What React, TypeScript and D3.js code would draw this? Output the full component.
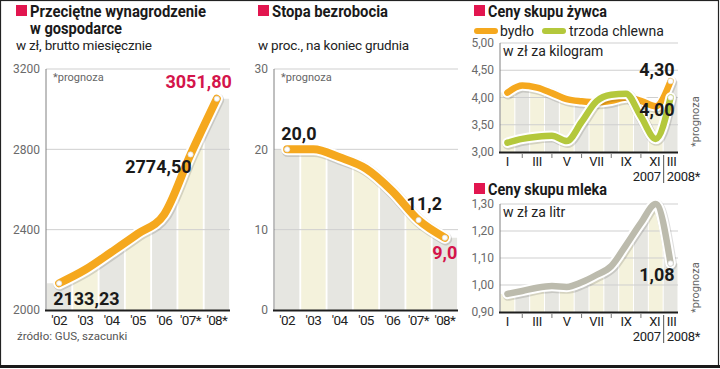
import React from "react";
import * as d3 from "d3";

// ---------- DATA ----------
const wageYears = ["'02", "'03", "'04", "'05", "'06", "'07*", "'08*"];
const wageValues = [2133.23, 2201.47, 2289.57, 2380.29, 2477.23, 2774.5, 3051.8];
const wageTicks = [2000, 2400, 2800, 3200];

const unempYears = ["'02", "'03", "'04", "'05", "'06", "'07*", "'08*"];
const unempValues = [20.0, 20.0, 19.0, 17.6, 14.8, 11.2, 9.0];
const unempTicks = [0, 10, 20, 30];

const monthSlots = ["I", "II", "III", "IV", "V", "VI", "VII", "VIII", "IX", "X", "XI", "III"];
const monthLabelIdx = [0, 2, 4, 6, 8, 10, 11];
const cattleValues = [4.09, 4.22, 4.18, 4.08, 3.97, 3.93, 3.91, 3.94, 4.0, 3.94, 3.84, 4.3];
const pigValues = [3.17, 3.24, 3.28, 3.3, 3.2, 3.55, 3.93, 4.05, 4.07, 3.65, 3.24, 4.0];
const livestockTicks = [3.0, 3.5, 4.0, 4.5, 5.0];
const milkValues = [0.967, 0.978, 0.99, 0.996, 0.993, 1.01, 1.037, 1.07, 1.148, 1.23, 1.3, 1.08];
const milkTicks = [0.9, 1.0, 1.1, 1.2, 1.3];

// ---------- STYLE ----------
const ORANGE = "#f5a81e";
const GREEN = "#b4c83c";
const MILK = "#bcbbad";
const CRIMSON = "#d4154b";
const RED = "#e2164f";
const GREY_BAND = "#e6e6e1";
const CREAM_BAND = "#f4f2dc";
const FONT = "Roboto, 'Noto Sans', sans-serif";

const comma = (f: string) => (v: number) => d3.format(f)(v).replace(".", ",");

function HaloLine({ d, color, width }: { d: string; color: string; width: number }) {
  return (
    <g fill="none" strokeLinecap="round" strokeLinejoin="round">
      <path d={d} stroke="rgba(0,0,0,0.13)" strokeWidth={width + 5} transform="translate(0.8,1.2)" />
      <path d={d} stroke="#fff" strokeWidth={width + 4} />
      <path d={d} stroke={color} strokeWidth={width} />
    </g>
  );
}

function Dot({ x, y }: { x: number; y: number }) {
  return <circle cx={x} cy={y} r={2.6} fill="#fff" stroke="#ddd" strokeWidth={0.8} />;
}

function Title({ x, y, lines, widths }: { x: number; y: number; lines: string[]; widths: number[] }) {
  return (
    <g>
      <rect x={x} y={y - 12} width={11} height={11} fill={RED} />
      {lines.map((l, i) => (
        <text
          key={i}
          x={x + 14}
          y={y + i * 16.5}
          fontFamily={FONT}
          fontWeight={700}
          fontSize={17}
          fill="#1a1a1a"
          textLength={widths[i]}
          lengthAdjust="spacingAndGlyphs"
        >
          {l}
        </text>
      ))}
    </g>
  );
}

type Series = { values: number[]; color: string };

function Panel(props: {
  id: string;
  x0: number;
  x1: number;
  yTopPx: number;
  yBotPx: number;
  domain: [number, number];
  ticks: number[];
  tickFmt: (v: number) => string;
  cats: string[];
  series: Series[];
  lineWidth: number;
  bandStartCream: boolean;
}) {
  const { id, x0, x1, yTopPx, yBotPx, domain, ticks, tickFmt, cats, series, lineWidth, bandStartCream } = props;
  const xb = d3.scaleBand<number>().domain(cats.map((_, i) => i)).range([x0, x1]).paddingInner(0.07).paddingOuter(0.035);
  const y = d3.scaleLinear().domain(domain).range([yBotPx, yTopPx]);
  const cx = (i: number) => (xb(i) as number) + xb.bandwidth() / 2;
  const line = d3
    .line<number>()
    .x((_, i) => cx(i))
    .y((v) => y(v))
    .curve(d3.curveMonotoneX);
  const maxVals = cats.map((_, i) => d3.max(series, (s) => s.values[i]) as number);
  const areaPts: [number, number][] = [
    [x0, maxVals[0]],
    ...maxVals.map((v, i) => [cx(i), v] as [number, number]),
    [x1, maxVals[maxVals.length - 1]],
  ];
  const area = d3
    .area<[number, number]>()
    .x((p) => p[0])
    .y0(yBotPx)
    .y1((p) => y(p[1]))
    .curve(d3.curveMonotoneX);
  const labelX = x0 - 6;
  return (
    <g>
      <defs>
        <clipPath id={id}>
          <path d={area(areaPts) as string} />
        </clipPath>
      </defs>
      <g clipPath={`url(#${id})`}>
        {cats.map((_, i) => (
          <rect
            key={i}
            x={xb(i)}
            y={yTopPx}
            width={xb.bandwidth()}
            height={yBotPx - yTopPx}
            fill={(i % 2 === 0) === bandStartCream ? CREAM_BAND : GREY_BAND}
          />
        ))}
      </g>
      {ticks.map((t) => (
        <g key={t}>
          {t !== domain[0] && (
            <line x1={x0} x2={x1} y1={y(t)} y2={y(t)} stroke="#cfcfcf" strokeWidth={1} />
          )}
          <text x={labelX} y={y(t)} dy="0.35em" textAnchor="end" fontFamily={FONT} fontSize={12} fill="#6a6a6a">
            {tickFmt(t)}
          </text>
        </g>
      ))}
      <line x1={x0} x2={x0} y1={yTopPx} y2={yBotPx} stroke="#808080" strokeWidth={1} />
      {series.map((s, k) => (
        <HaloLine key={k} d={line(s.values) as string} color={s.color} width={lineWidth} />
      ))}
      <line x1={x0 - 1} x2={x1} y1={yBotPx + 0.5} y2={yBotPx + 0.5} stroke="#1e1e1e" strokeWidth={2} />
    </g>
  );
}

export default function App() {
  const p1 = { x0: 46, x1: 230, yTop: 69, yBot: 310 };
  const p2 = { x0: 274, x1: 458, yTop: 69, yBot: 310 };
  const p3 = { x0: 500, x1: 678, yTop: 43, yBot: 152 };
  const p4 = { x0: 500, x1: 678, yTop: 204, yBot: 312 };

  const mkX = (cats: string[], x0: number, x1: number) =>
    d3.scaleBand<number>().domain(cats.map((_, i) => i)).range([x0, x1]).paddingInner(0.07).paddingOuter(0.035);

  const x1s = mkX(wageYears, p1.x0, p1.x1);
  const y1s = d3.scaleLinear().domain([2000, 3200]).range([p1.yBot, p1.yTop]);
  const c1 = (i: number) => (x1s(i) as number) + x1s.bandwidth() / 2;

  const x2s = mkX(unempYears, p2.x0, p2.x1);
  const y2s = d3.scaleLinear().domain([0, 30]).range([p2.yBot, p2.yTop]);
  const c2 = (i: number) => (x2s(i) as number) + x2s.bandwidth() / 2;

  const x3s = mkX(monthSlots, p3.x0, p3.x1);
  const y3s = d3.scaleLinear().domain([3, 5]).range([p3.yBot, p3.yTop]);
  const c3 = (i: number) => (x3s(i) as number) + x3s.bandwidth() / 2;
  const y4s = d3.scaleLinear().domain([0.9, 1.3]).range([p4.yBot, p4.yTop]);

  const sep = (c3(10) + c3(11)) / 2 + 0.5;
  const last = monthSlots.length - 1;
  const nW = wageValues.length - 1;
  const nU = unempValues.length - 1;

  const fmt2 = comma(".2f");
  const fmt1 = comma(".1f");

  const monthAxis = (yBot: number, yearY: number) => (
    <g fontFamily={FONT} fill="#222">
      {monthLabelIdx.map((i) => (
        <text key={i} x={c3(i) + (i === 10 ? -1 : i === 11 ? 1 : 0)} y={yBot + 14} textAnchor="middle" fontSize={13} letterSpacing={-0.3}>
          {monthSlots[i]}
        </text>
      ))}
      {monthSlots.map((_, i) =>
        monthLabelIdx.includes(i) ? null : (
          <line key={i} x1={c3(i)} x2={c3(i)} y1={yBot + 2} y2={yBot + 6} stroke="#777" strokeWidth={1} />
        )
      )}
      <line x1={sep} x2={sep} y1={yBot + 3} y2={yearY + 2} stroke="#555" strokeWidth={1} />
      <text x={sep - 3} y={yearY} textAnchor="end" fontSize={13} letterSpacing={-0.3}>
        2007
      </text>
      <text x={sep + 3} y={yearY} textAnchor="start" fontSize={13} letterSpacing={-0.3}>
        2008*
      </text>
    </g>
  );

  return (
    <svg width={720} height={369} style={{ position: "absolute", left: 0, top: 0, background: "#fff" }}>
      <rect x={0} y={0} width={720} height={369} fill="#fff" />

      {/* ---------- Panel 1 ---------- */}
      <Title x={16} y={17} lines={["Przeciętne wynagrodzenie", "w gospodarce"]} widths={[176, 92]} />
      <text x={16} y={50} fontFamily={FONT} fontSize={13.5} fill="#222" letterSpacing={-0.2}>
        w zł, brutto miesięcznie
      </text>
      <Panel
        id="clip1"
        x0={p1.x0}
        x1={p1.x1}
        yTopPx={p1.yTop}
        yBotPx={p1.yBot}
        domain={[2000, 3200]}
        ticks={wageTicks}
        tickFmt={d3.format("d")}
        cats={wageYears}
        series={[{ values: wageValues, color: ORANGE }]}
        lineWidth={8}
        bandStartCream={false}
      />
      <text x={p1.x0 + 7} y={p1.yTop + 12} fontFamily={FONT} fontSize={11} fill="#666">
        *prognoza
      </text>
      {wageYears.map((c, i) => (
        <text key={c} x={c1(i)} y={325} textAnchor="middle" fontFamily={FONT} fontSize={13.5} fill="#222" letterSpacing={-0.6}>
          {c}
        </text>
      ))}
      {[0, nW - 1, nW].map((i) => (
        <Dot key={i} x={c1(i)} y={y1s(wageValues[i])} />
      ))}
      <text x={c1(0) - 6} y={y1s(wageValues[0]) + 22} fontFamily={FONT} fontWeight={700} fontSize={18} fill="#1a1a1a">
        {fmt2(wageValues[0])}
      </text>
      <text x={c1(nW - 1) + 1} y={y1s(wageValues[nW - 1]) + 19} textAnchor="end" fontFamily={FONT} fontWeight={700} fontSize={18} fill="#1a1a1a">
        {fmt2(wageValues[nW - 1])}
      </text>
      <text x={c1(nW) + 15} y={y1s(wageValues[nW]) - 11} textAnchor="end" fontFamily={FONT} fontWeight={700} fontSize={18} fill={CRIMSON}>
        {fmt2(wageValues[nW])}
      </text>
      <text x={17} y={340} fontFamily={FONT} fontSize={11.5} fill="#555">
        źródło: GUS, szacunki
      </text>

      {/* ---------- Panel 2 ---------- */}
      <Title x={258} y={17} lines={["Stopa bezrobocia"]} widths={[116]} />
      <text x={258} y={50} fontFamily={FONT} fontSize={13.5} fill="#222" letterSpacing={-0.2}>
        w proc., na koniec grudnia
      </text>
      <Panel
        id="clip2"
        x0={p2.x0}
        x1={p2.x1}
        yTopPx={p2.yTop}
        yBotPx={p2.yBot}
        domain={[0, 30]}
        ticks={unempTicks}
        tickFmt={d3.format("d")}
        cats={unempYears}
        series={[{ values: unempValues, color: ORANGE }]}
        lineWidth={8}
        bandStartCream={false}
      />
      <text x={p2.x0 + 7} y={p2.yTop + 12} fontFamily={FONT} fontSize={11} fill="#666">
        *prognoza
      </text>
      {unempYears.map((c, i) => (
        <text key={c} x={c2(i)} y={325} textAnchor="middle" fontFamily={FONT} fontSize={13.5} fill="#222" letterSpacing={-0.6}>
          {c}
        </text>
      ))}
      {[0, nU - 1, nU].map((i) => (
        <Dot key={i} x={c2(i)} y={y2s(unempValues[i])} />
      ))}
      <text x={c2(0) - 6} y={y2s(unempValues[0]) - 9} fontFamily={FONT} fontWeight={700} fontSize={18} fill="#1a1a1a">
        {fmt1(unempValues[0])}
      </text>
      <text x={c2(nU - 1) - 12} y={y2s(unempValues[nU - 1]) - 10} fontFamily={FONT} fontWeight={700} fontSize={18} fill="#1a1a1a">
        {fmt1(unempValues[nU - 1])}
      </text>
      <text x={c2(nU)} y={y2s(unempValues[nU]) + 21} textAnchor="middle" fontFamily={FONT} fontWeight={700} fontSize={18} fill={CRIMSON}>
        {fmt1(unempValues[nU])}
      </text>

      {/* ---------- Panel 3 ---------- */}
      <Title x={474} y={17} lines={["Ceny skupu żywca"]} widths={[119]} />
      <line x1={477} x2={495} y1={31} y2={31} stroke={ORANGE} strokeWidth={6} strokeLinecap="round" />
      <text x={500} y={36} fontFamily={FONT} fontSize={14} fill="#222">
        bydło
      </text>
      <line x1={545} x2={563} y1={31} y2={31} stroke={GREEN} strokeWidth={6} strokeLinecap="round" />
      <text x={569} y={36} fontFamily={FONT} fontSize={14} fill="#222">
        trzoda chlewna
      </text>
      <Panel
        id="clip3"
        x0={p3.x0}
        x1={p3.x1}
        yTopPx={p3.yTop}
        yBotPx={p3.yBot}
        domain={[3, 5]}
        ticks={livestockTicks}
        tickFmt={comma(".2f")}
        cats={monthSlots}
        series={[
          { values: cattleValues, color: ORANGE },
          { values: pigValues, color: GREEN },
        ]}
        lineWidth={6.5}
        bandStartCream={true}
      />
      <text x={p3.x0 + 3} y={p3.yTop + 13} fontFamily={FONT} fontSize={14} fill="#222">
        w zł za kilogram
      </text>
      {monthAxis(p3.yBot, 181)}
      <Dot x={c3(last)} y={y3s(cattleValues[last])} />
      <Dot x={c3(last)} y={y3s(pigValues[last])} />
      <text x={c3(last) + 4} y={y3s(cattleValues[last]) - 5} textAnchor="end" fontFamily={FONT} fontWeight={700} fontSize={18} fill="#1a1a1a">
        {fmt2(cattleValues[last])}
      </text>
      <text x={c3(last) + 4} y={y3s(pigValues[last]) + 18.5} textAnchor="end" fontFamily={FONT} fontWeight={700} fontSize={18} fill="#1a1a1a">
        {fmt2(pigValues[last])}
      </text>
      <text transform={`translate(699,147) rotate(-90)`} fontFamily={FONT} fontSize={11} fill="#666">
        *prognoza
      </text>

      {/* ---------- Panel 4 ---------- */}
      <Title x={474} y={195} lines={["Ceny skupu mleka"]} widths={[119]} />
      <Panel
        id="clip4"
        x0={p4.x0}
        x1={p4.x1}
        yTopPx={p4.yTop}
        yBotPx={p4.yBot}
        domain={[0.9, 1.3]}
        ticks={milkTicks}
        tickFmt={comma(".2f")}
        cats={monthSlots}
        series={[{ values: milkValues, color: MILK }]}
        lineWidth={6.5}
        bandStartCream={true}
      />
      <text x={p4.x0 + 3} y={p4.yTop + 13} fontFamily={FONT} fontSize={14} fill="#222">
        w zł za litr
      </text>
      {monthAxis(p4.yBot, 341)}
      <Dot x={c3(last)} y={y4s(milkValues[last])} />
      <text x={c3(last) + 4} y={y4s(milkValues[last]) + 18} textAnchor="end" fontFamily={FONT} fontWeight={700} fontSize={18} fill="#1a1a1a">
        {fmt2(milkValues[last])}
      </text>
      <text transform={`translate(699,313) rotate(-90)`} fontFamily={FONT} fontSize={11} fill="#666">
        *prognoza
      </text>

      {/* frame */}
      <rect x={0.5} y={0.5} width={718} height={366} fill="none" stroke="#222" strokeWidth={1.2} />
      <rect x={0} y={365} width={720} height={3} fill="#1a1a1a" />
    </svg>
  );
}
